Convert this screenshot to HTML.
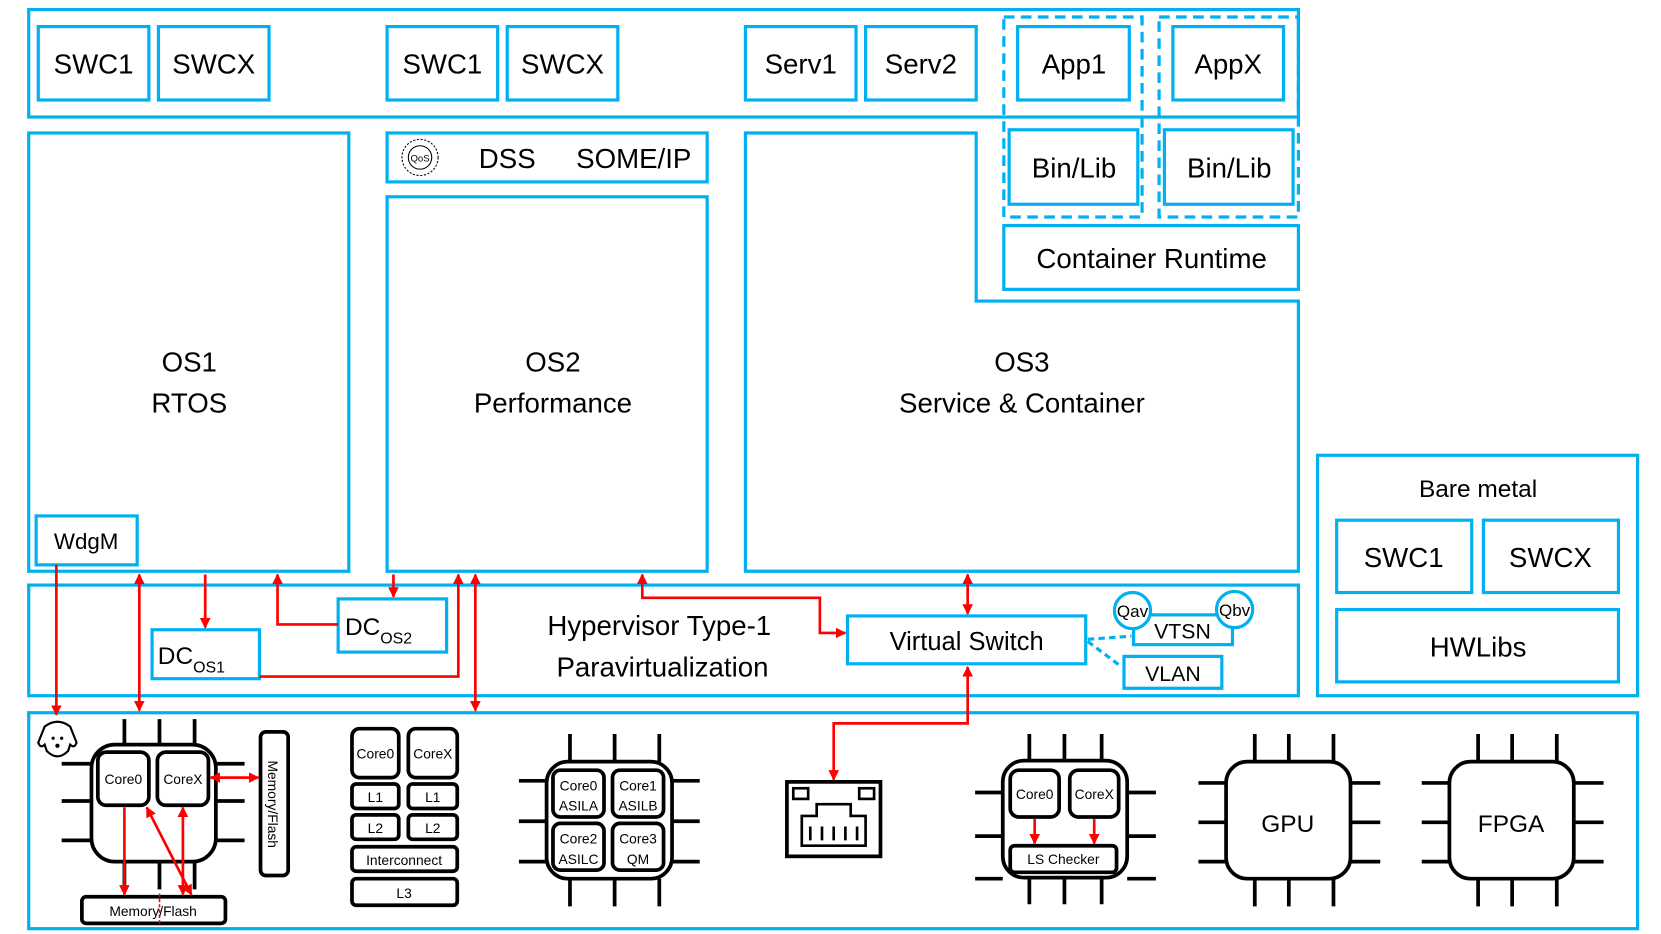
<!DOCTYPE html>
<html><head><meta charset="utf-8"><style>
html,body{margin:0;padding:0;background:#fff;}
svg{display:block;}
text{font-family:"Liberation Sans",sans-serif;fill:#000;}
</style></head><body>
<svg width="1661" height="934" viewBox="0 0 1562 878" preserveAspectRatio="none" xmlns="http://www.w3.org/2000/svg">
<defs>
<marker id="ah" viewBox="0 0 10 10" refX="9" refY="5" markerWidth="4" markerHeight="4" orient="auto-start-reverse"><path d="M0,0 L10,5 L0,10 z" fill="#ff0000"/></marker>
</defs>
<g fill="none" stroke="#00b0f0" stroke-width="3">
<rect x="27" y="9" width="1194" height="101"/>
<rect x="36" y="25" width="104" height="69"/>
<rect x="149" y="25" width="104" height="69"/>
<rect x="364" y="25" width="104" height="69"/>
<rect x="477" y="25" width="104" height="69"/>
<rect x="701" y="25" width="104" height="69"/>
<rect x="814" y="25" width="104" height="69"/>
<rect x="957" y="25" width="105" height="69"/>
<rect x="1103" y="25" width="104" height="69"/>
<rect x="944" y="16" width="130" height="188" stroke-dasharray="10,6"/>
<rect x="1090" y="16" width="131" height="188" stroke-dasharray="10,6"/>
<rect x="949" y="122" width="121" height="70"/>
<rect x="1095" y="122" width="121" height="70"/>
<rect x="944" y="212" width="277" height="60"/>
<rect x="27" y="125" width="301" height="412"/>
<rect x="34" y="485" width="95" height="46"/>
<rect x="364" y="125" width="301" height="46"/>
<rect x="364" y="185" width="301" height="352"/>
<path d="M701,125 H918 V283 H1221 V537 H701 Z"/>
<rect x="27" y="550" width="1194" height="104"/>
<rect x="143" y="592" width="101" height="46"/>
<rect x="318" y="563" width="102" height="50"/>
<rect x="797" y="579" width="224" height="45"/>
<rect x="1066" y="578" width="93" height="28"/>
<rect x="1057" y="617" width="92" height="30"/>
<path d="M1023,601 L1064,598 M1023,603 L1055,627" stroke-dasharray="6,4"/>
<circle cx="1065" cy="574" r="17" fill="#fff"/>
<circle cx="1161" cy="573" r="17" fill="#fff"/>
<rect x="1239" y="428" width="301" height="226"/>
<rect x="1257" y="489" width="127" height="68"/>
<rect x="1395" y="489" width="127" height="68"/>
<rect x="1257" y="573" width="265" height="68"/>
<rect x="27" y="670" width="1513" height="203"/>
</g>
<g font-size="26" text-anchor="middle">
<text x="88" y="69">SWC1</text><text x="201" y="69">SWCX</text>
<text x="416" y="69">SWC1</text><text x="529" y="69">SWCX</text>
<text x="753" y="69">Serv1</text><text x="866" y="69">Serv2</text>
<text x="1010" y="69">App1</text><text x="1155" y="69">AppX</text>
<text x="1010" y="167">Bin/Lib</text><text x="1156" y="167">Bin/Lib</text>
<text x="1083" y="252">Container Runtime</text>
<text x="477" y="158">DSS</text><text x="596" y="158">SOME/IP</text>
<text x="178" y="349">OS1</text><text x="178" y="388">RTOS</text>
<text x="520" y="349">OS2</text><text x="520" y="388">Performance</text>
<text x="961" y="349">OS3</text><text x="961" y="388">Service &amp; Container</text>
<text x="620" y="597">Hypervisor Type-1</text><text x="623" y="636">Paravirtualization</text>
<text x="909" y="611" font-size="24">Virtual Switch</text>
<text x="1390" y="467" font-size="23">Bare metal</text>
<text x="1320" y="533">SWC1</text><text x="1458" y="533">SWCX</text>
<text x="1390" y="617">HWLibs</text>
</g>
<g text-anchor="middle">
<text x="81" y="516" font-size="21">WdgM</text>
<text x="180" y="624" font-size="23">DC<tspan font-size="15" dy="8">OS1</tspan></text>
<text x="356" y="597" font-size="23">DC<tspan font-size="15" dy="8">OS2</tspan></text>
<text x="1112" y="600" font-size="20">VTSN</text>
<text x="1103" y="640" font-size="20">VLAN</text>
<text x="1065" y="580" font-size="16">Qav</text>
<text x="1161" y="579" font-size="16">Qbv</text>
</g>
<circle cx="395" cy="148" r="17" fill="none" stroke="#000" stroke-width="1" stroke-dasharray="2,1.5"/>
<circle cx="395" cy="148" r="11" fill="none" stroke="#000" stroke-width="1"/>
<text x="395" y="152" font-size="9" text-anchor="middle">QoS</text>
<g fill="none" stroke="#000" stroke-width="3.5">
<path d="M117,676V700M150,676V700M183,676V700M117,810V836M150,810V836M183,810V836M58,718H86M58,753H86M58,790H86M203,718H230M203,753H230M203,790H230"/>
<rect x="86" y="700" width="117" height="110" rx="22"/>
<rect x="92" y="707" width="48" height="50" rx="8"/>
<rect x="148" y="707" width="48" height="50" rx="8"/>
<rect x="245" y="688" width="26" height="135" rx="5"/>
<rect x="77" y="843" width="135" height="25" rx="4"/>
<rect x="331" y="685" width="44" height="46" rx="7"/>
<rect x="384" y="685" width="46" height="46" rx="7"/>
<rect x="331" y="737" width="44" height="23" rx="4"/>
<rect x="384" y="737" width="46" height="23" rx="4"/>
<rect x="331" y="766" width="44" height="23" rx="4"/>
<rect x="384" y="766" width="46" height="23" rx="4"/>
<rect x="331" y="796" width="99" height="23" rx="4"/>
<rect x="331" y="826" width="99" height="25" rx="4"/>
<path d="M536,690V716M578,690V716M620,690V716M536,826V852M578,826V852M620,826V852M488,734H514M488,772H514M488,810H514M632,734H658M632,772H658M632,810H658"/>
<rect x="514" y="716" width="118" height="110" rx="20"/>
<rect x="520" y="724" width="48" height="44" rx="7"/>
<rect x="576" y="724" width="48" height="44" rx="7"/>
<rect x="520" y="774" width="48" height="44" rx="7"/>
<rect x="576" y="774" width="48" height="44" rx="7"/>
<rect x="740" y="735" width="88" height="70"/>
<rect x="746" y="741" width="14" height="10" stroke-width="2.5"/>
<rect x="808" y="741" width="14" height="10" stroke-width="2.5"/>
<path d="M754,795 V767 H768 V756 H800 V767 H814 V795 Z" stroke-width="2.5"/>
<path d="M762,777V790M773,777V790M784,777V790M795,777V790M806,777V790" stroke-width="2.5"/>
<path d="M968,690V715M1001,690V715M1036,690V715M968,825V850M1001,825V850M1036,825V850M917,745H943M917,786H943M917,826H943M1060,745H1087M1060,786H1087M1060,826H1087"/>
<rect x="943" y="715" width="117" height="110" rx="20"/>
<rect x="950" y="724" width="46" height="44" rx="8"/>
<rect x="1006" y="724" width="46" height="44" rx="8"/>
<rect x="950" y="795" width="100" height="25" rx="4"/>
<path d="M1180,690V716M1212,690V716M1254,690V716M1180,826V852M1212,826V852M1254,826V852M1127,736H1153M1127,773H1153M1127,810H1153M1270,736H1298M1270,773H1298M1270,810H1298"/>
<rect x="1153" y="716" width="117" height="110" rx="20"/>
<path d="M1390,690V716M1422,690V716M1464,690V716M1390,826V852M1422,826V852M1464,826V852M1337,736H1363M1337,773H1363M1337,810H1363M1480,736H1508M1480,773H1508M1480,810H1508"/>
<rect x="1363" y="716" width="117" height="110" rx="20"/>
<path d="M42,683 Q54,674 66,683 L72,698 Q70,704 66,700 L64,706 Q54,716 44,706 L42,700 Q38,704 36,698 Z" stroke-width="2"/>
</g>
<g fill="none" stroke="#ff0000" stroke-width="2.5" marker-end="url(#ah)">
<path d="M53,531 V672"/>
<path d="M131,540 V668" marker-start="url(#ah)"/>
<path d="M193,540 V590"/>
<path d="M318,587 H261 V540"/>
<path d="M370,540 V561"/>
<path d="M244,636 H431 V540"/>
<path d="M447,540 V668" marker-start="url(#ah)"/>
<path d="M795,595 H771 V562 H604 V540" marker-start="url(#ah)"/>
<path d="M910,540 V577" marker-start="url(#ah)"/>
<path d="M784,733 V680 H910 V627" marker-start="url(#ah)"/>
<path d="M117,759 V841"/>
<path d="M172,759 V841" marker-start="url(#ah)"/>
<path d="M138,759 L180,841" marker-start="url(#ah)"/>
<path d="M198,731 H243" marker-start="url(#ah)"/>
<path d="M973,770 V793"/>
<path d="M1029,770 V793"/>
</g>
<path d="M150,840 V868" stroke="#ff0000" stroke-width="1.5" stroke-dasharray="3,2"/>
<circle cx="50" cy="694" r="1.5"/><circle cx="58" cy="694" r="1.5"/><circle cx="54" cy="701" r="2"/>
<g text-anchor="middle" font-size="13">
<text x="116" y="737">Core0</text><text x="172" y="737">CoreX</text>
<text x="144" y="861">Memory/Flash</text>
<text transform="translate(252,756) rotate(90)" text-anchor="middle">Memory/Flash</text>
<text x="353" y="713">Core0</text><text x="407" y="713">CoreX</text>
<text x="353" y="754">L1</text><text x="407" y="754">L1</text>
<text x="353" y="783">L2</text><text x="407" y="783">L2</text>
<text x="380" y="813">Interconnect</text><text x="380" y="844">L3</text>
<text x="544" y="743">Core0</text><text x="544" y="762">ASILA</text>
<text x="600" y="743">Core1</text><text x="600" y="762">ASILB</text>
<text x="544" y="793">Core2</text><text x="544" y="812">ASILC</text>
<text x="600" y="793">Core3</text><text x="600" y="812">QM</text>
<text x="973" y="751">Core0</text><text x="1029" y="751">CoreX</text>
<text x="1000" y="812">LS Checker</text>
<text x="1211" y="782" font-size="23">GPU</text>
<text x="1421" y="782" font-size="23">FPGA</text>
</g>
</svg>
</body></html>
